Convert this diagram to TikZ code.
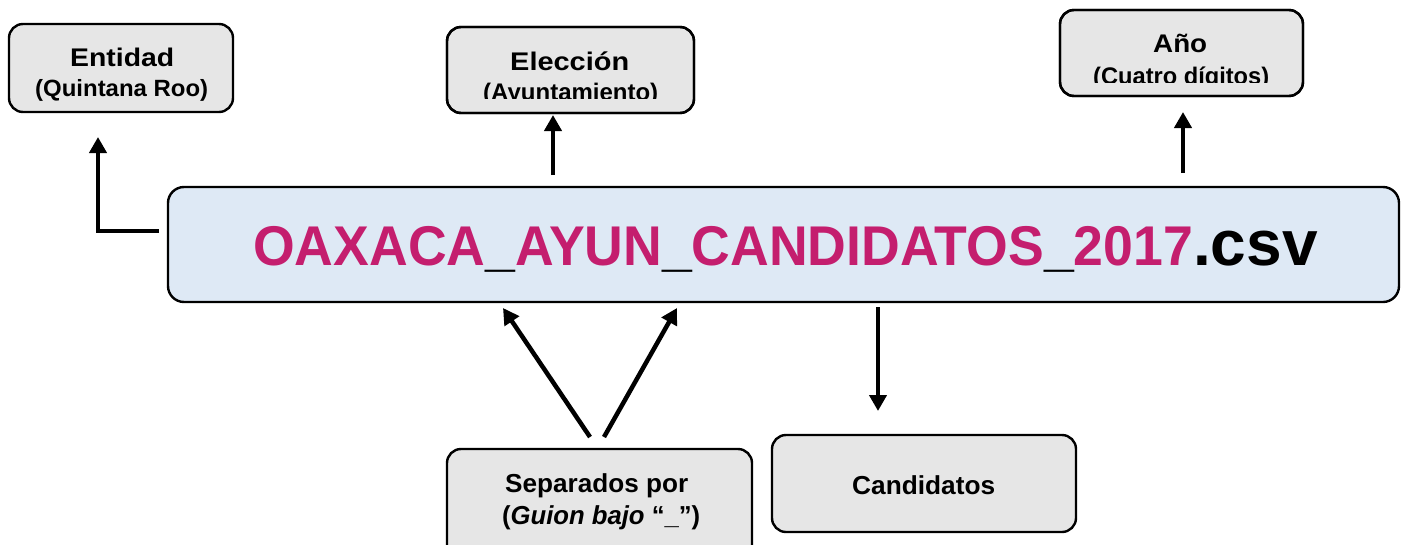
\documentclass[tikz,border=0pt]{standalone}
\usepackage{fontspec}
\usepackage{graphicx}
\setmainfont{Liberation Sans}
\usetikzlibrary{arrows.meta}
\definecolor{boxgray}{HTML}{E6E6E6}
\definecolor{mainblue}{HTML}{DEE9F5}
\definecolor{magen}{HTML}{C41E6E}
\newcommand\fitlab[3]{\resizebox{#1pt}{\height}{\fontsize{#2}{#2}\selectfont\bfseries #3}}
\tikzset{
  graybox/.style={draw=black, line width=2.4pt, fill=boxgray, rounded corners=14pt},
  boxline/.style={draw=black, line width=2.4pt, rounded corners=14pt},
  arr/.style={line width=4.5pt, -{Triangle[length=16pt,width=17pt]}},
  lbl/.style={inner sep=0pt, anchor=base west}
}
\begin{document}
\begin{tikzpicture}[x=1pt,y=-1pt]
\useasboundingbox (0,0) rectangle (1403,544);
% Entidad
\draw[graybox] (9,24) rectangle (233,112);
\node[lbl] (ent1) at (70,66) {\fitlab{104}{25.5}{Entidad}};
\node[lbl] (ent2) at (35,96) {\fitlab{173}{23.5}{(Quintana Roo)}};
\coordinate (entB) at (98,137);

% Eleccion
\draw[graybox] (447,27) rectangle (694,113);
\begin{scope}
\clip (447,27) rectangle (694,98);
\node[lbl] (ele1) at (510,70) {\fitlab{119}{25.5}{Elección}};
\node[lbl] (ele2) at (483,100) {\fitlab{175}{24}{(Ayuntamiento)}};
\end{scope}
\draw[boxline] (447,27) rectangle (694,113);
\coordinate (eleB) at (553,115);

% Ano
\draw[graybox] (1060,10) rectangle (1303,96);
\begin{scope}
\clip (1060,10) rectangle (1303,82);
\node[lbl] (ano1) at (1153,52) {\fitlab{54}{25.5}{Año}};
\node[lbl] (ano2) at (1093,84.5) {\fitlab{176}{24}{(Cuatro dígitos)}};
\end{scope}
\draw[boxline] (1060,10) rectangle (1303,96);
\coordinate (anoB) at (1183,112);

% main box
\draw[draw=black, line width=2.4pt, fill=mainblue, rounded corners=16pt] (168,187) rectangle (1399,302);
\node[lbl] (main) at (253,265) {\resizebox{940pt}{\height}{\fontsize{56}{60}\selectfont\bfseries
  \textcolor{magen}{OAXACA}\_\textcolor{magen}{AYUN}\_\textcolor{magen}{CANDIDATOS}\_\textcolor{magen}{2017}}\fontsize{64}{70}\selectfont\bfseries .csv};

% bottom boxes
\draw[graybox] (447,449) rectangle (752,560);
\node[lbl] (sep1) at (505,492) {\fitlab{183}{26}{Separados por}};
\node[lbl] (sep2) at (502,524) {\fitlab{198}{26}{(\textit{Guion bajo} “\_”)}};
\coordinate (sepA) at (590,437);
\coordinate (sepB) at (604,437);

\draw[graybox] (772,435) rectangle (1076,532);
\node[lbl] (cand) at (852,494) {\fitlab{143}{26}{Candidatos}};

% connectors
\coordinate (mainL) at (159,231);
\coordinate (mainTe) at (553,175);
\coordinate (mainTa) at (1183,173);
\coordinate (mainBc) at (878,307);
\coordinate (candT) at (878,411);
\coordinate (mainB1) at (503,308);
\coordinate (mainB2) at (677,308);
\draw[arr, line join=miter] (mainL) -- (98,231) -- (entB);
\draw[arr] (mainTe) -- (eleB);
\draw[arr] (mainTa) -- (anoB);
\draw[arr] (mainBc) -- (candT);
\draw[arr] (sepA) -- (mainB1);
\draw[arr] (sepB) -- (mainB2);
\end{tikzpicture}
\end{document}
